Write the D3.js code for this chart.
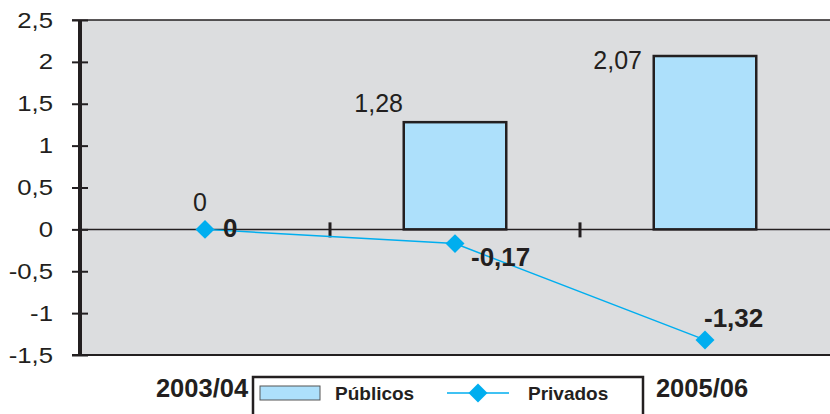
<!DOCTYPE html>
<html>
<head>
<meta charset="utf-8">
<script src="https://cdn.jsdelivr.net/npm/d3@7"></script>
<style>
  body { margin: 0; background: #fff; }
  text { font-family: "Liberation Sans", Arial, sans-serif; fill: #231f20; }
</style>
</head>
<body>
<div id="chart"></div>
<script>
// data
var categories = ["2003/04", "2004/05", "2005/06"];
var publicos = [0, 1.28, 2.07];
var privados = [0, -0.17, -1.32];
var yTicks = [-1.5, -1, -0.5, 0, 0.5, 1, 1.5, 2, 2.5];
var seriesNames = ["Públicos", "Privados"];

// label nudges (px) relative to the bar top / point
var pubNudge = [[2, -18], [-52, -10], [-63, 13]];
var privNudge = [[18, 8], [16, 22], [-1, -13]];

var W = 830, H = 414;
var margin = {top: 20, right: 0, bottom: 59, left: 80},
    width = W - margin.left - margin.right,
    height = H - margin.top - margin.bottom;

var ink = "#231f20";
var fmt = function(v) { return String(v).replace(".", ","); };

var svg = d3.select("#chart").append("svg")
    .attr("width", W)
    .attr("height", H);

var g = svg.append("g")
    .attr("transform", `translate(${margin.left}, ${margin.top})`);

var x = d3.scaleBand().domain(categories).range([0, width]).padding(0);
var y = d3.scaleLinear().domain([-1.5, 2.5]).range([height, 0]);
var barW = x.bandwidth() * 0.41;
var cx = function(c) { return x(c) + x.bandwidth() / 2; };

// plot background
g.append("rect")
    .attr("width", width).attr("height", height)
    .attr("fill", "#dcdddf");

// frame top / bottom
g.append("line").attr("x1", -8).attr("x2", width).attr("y1", 0).attr("y2", 0)
    .attr("stroke", ink).attr("stroke-width", 1.5);
g.append("line").attr("x1", -8).attr("x2", width).attr("y1", height).attr("y2", height)
    .attr("stroke", ink).attr("stroke-width", 2);

// bars
g.selectAll(".bar")
  .data(categories)
  .enter().append("rect")
    .attr("class", "bar")
    .attr("x", function(d) { return cx(d) - barW / 2; })
    .attr("width", barW)
    .attr("y", function(d, i) { return y(Math.max(0, publicos[i])); })
    .attr("height", function(d, i) { return Math.abs(y(publicos[i]) - y(0)); })
    .attr("fill", "#ade0fb")
    .attr("stroke", ink)
    .attr("stroke-width", 2.5);

// zero line with category separators
g.append("line").attr("x1", 0).attr("x2", width).attr("y1", y(0)).attr("y2", y(0))
    .attr("stroke", ink).attr("stroke-width", 1.5);
g.selectAll(".sep")
  .data(categories.slice(1))
  .enter().append("line")
    .attr("x1", function(d) { return x(d); })
    .attr("x2", function(d) { return x(d); })
    .attr("y1", y(0) - 7).attr("y2", y(0) + 8)
    .attr("stroke", ink).attr("stroke-width", 3);

// y axis
var yAxis = g.append("g")
    .call(d3.axisLeft(y).tickValues(yTicks).tickSize(8).tickPadding(0).tickFormat(fmt));
yAxis.select(".domain").attr("stroke", ink).attr("stroke-width", 4).attr("d", `M0,0V${height}`);
yAxis.selectAll(".tick line").attr("x1", 8).attr("stroke", ink).attr("stroke-width", 2);
yAxis.selectAll(".tick text")
    .attr("x", -27 / 1.17)
    .attr("transform", "scale(1.17,1)")
    .attr("fill", ink)
    .style("font-family", "'Liberation Sans', Arial, sans-serif")
    .style("font-size", "22px");

// privados line
var line = d3.line()
    .x(function(d, i) { return cx(categories[i]); })
    .y(function(d) { return y(d); });
g.append("path")
    .datum(privados)
    .attr("fill", "none")
    .attr("stroke", "#00aeef")
    .attr("stroke-width", 1.5)
    .attr("d", line);

var diamond = d3.symbol().type(d3.symbolSquare).size(180);
g.selectAll(".pt")
  .data(privados)
  .enter().append("path")
    .attr("class", "pt")
    .attr("d", diamond)
    .attr("transform", function(d, i) { return `translate(${cx(categories[i])}, ${y(d)}) rotate(45)`; })
    .attr("fill", "#00aeef");

// bar labels
g.selectAll(".pubLab")
  .data(publicos)
  .enter().append("text")
    .attr("class", "pubLab")
    .attr("x", function(d, i) { return cx(categories[i]) + pubNudge[i][0]; })
    .attr("y", function(d, i) { return y(d) + pubNudge[i][1]; })
    .attr("text-anchor", "end")
    .style("font-size", "25px")
    .text(fmt);

// point labels
g.selectAll(".privLab")
  .data(privados)
  .enter().append("text")
    .attr("class", "privLab")
    .attr("x", function(d, i) { return cx(categories[i]) + privNudge[i][0]; })
    .attr("y", function(d, i) { return y(d) + privNudge[i][1]; })
    .attr("text-anchor", "start")
    .style("font-size", "26px")
    .style("font-weight", "bold")
    .text(fmt);

// category labels (the middle one sits under the legend box)
g.selectAll(".cat")
  .data(categories.filter(function(d, i) { return i !== 1; }))
  .enter().append("text")
    .attr("class", "cat")
    .attr("x", function(d) { return cx(d) - 3; })
    .attr("y", height + 42)
    .attr("text-anchor", "middle")
    .style("font-size", "25.5px")
    .style("font-weight", "bold")
    .text(function(d) { return d; });

// legend
var lg = svg.append("g").attr("transform", "translate(253, 377)");
lg.append("rect")
    .attr("x", 0).attr("y", 0).attr("width", 390).attr("height", 60)
    .attr("fill", "#fff").attr("stroke", ink).attr("stroke-width", 2.5);
lg.append("rect")
    .attr("x", 7).attr("y", 9).attr("width", 60).attr("height", 14)
    .attr("fill", "#ade0fb").attr("stroke", "#555").attr("stroke-width", 1);
lg.append("text")
    .attr("x", 82).attr("y", 23)
    .style("font-size", "19px").style("font-weight", "bold")
    .text(seriesNames[0]);
lg.append("line")
    .attr("x1", 194).attr("x2", 256).attr("y1", 16).attr("y2", 16)
    .attr("stroke", "#00aeef").attr("stroke-width", 1.5);
lg.append("path")
    .attr("d", diamond)
    .attr("transform", "translate(225, 16) rotate(45)")
    .attr("fill", "#00aeef");
lg.append("text")
    .attr("x", 275).attr("y", 23)
    .style("font-size", "19px").style("font-weight", "bold")
    .text(seriesNames[1]);
</script>
</body>
</html>
